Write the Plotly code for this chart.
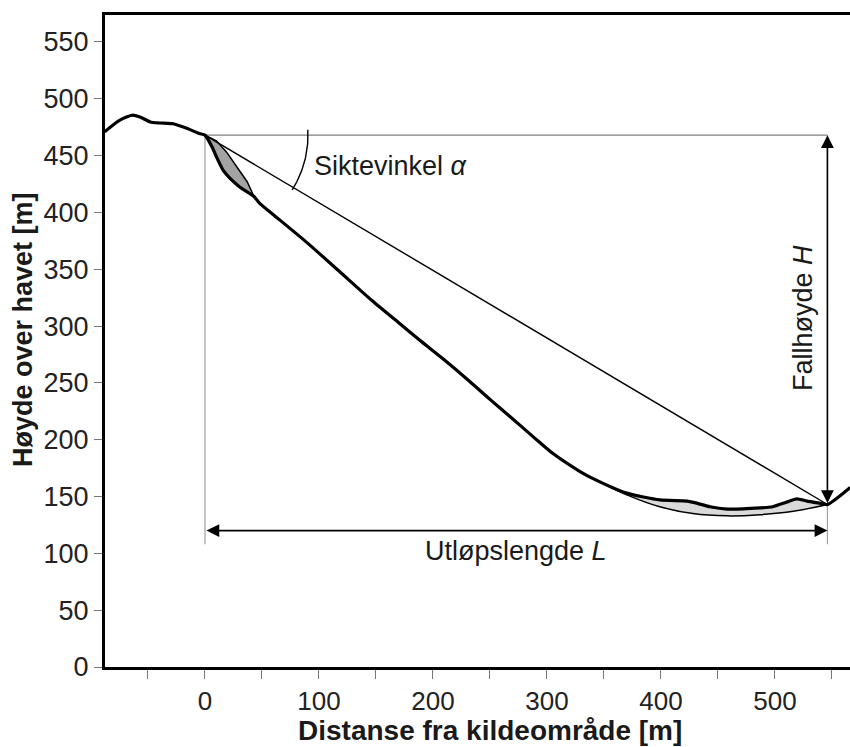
import numpy as np
import plotly.graph_objects as go

# ---- data ----
# terrain profile (thick line)
profile_x = [-88, -75, -64, -57, -48, -40, -28, -16, -5, 0, 6, 10, 16, 22, 31, 43, 48, 60, 90, 118,
             147, 171, 189, 209, 232, 250, 268, 288, 305, 329, 340, 370, 399, 423, 432, 443, 458,
             487, 498, 510, 519, 528, 540, 546, 566]
profile_y = [471, 481, 485.5, 484, 479.6, 478.7, 478, 474, 469.4, 468, 458, 449, 437, 430, 422, 414,
             408, 398, 373, 348, 322, 302, 287, 271, 251.5, 235.5, 220, 202.5, 188, 172, 166,
             153, 147, 146, 144, 141, 139, 140, 141, 145, 148, 146, 144, 143, 158]

# upper edge of release area (before the slide)
release_x = [0, 10, 19, 28, 37, 43]
release_y = [468, 463, 453, 440, 427, 414]

# smooth runout surface below the deposit
runout_x = [350, 370, 399, 428, 458, 487, 516, 546]
runout_y = [161, 151.5, 141, 135, 133, 134, 137, 143]

source_pt = (0, 468)
runout_pt = (546, 143)
L_arrow_y = 120
guide_bottom = 108

x_ticks = list(range(-50, 551, 50))
x_ticklabels = [str(v) if v >= 0 and v % 100 == 0 and v <= 500 else "" for v in x_ticks]
y_ticks = list(range(0, 551, 50))

FONT = "Liberation Sans, Arial, Helvetica, sans-serif"

fig = go.Figure()

# release lens (dark grey)
px = np.array(profile_x); py = np.array(profile_y)
mask = (px >= release_x[0]) & (px <= release_x[-1])
lens_x = list(px[mask]) + release_x[::-1]
lens_y = list(py[mask]) + release_y[::-1]
fig.add_trace(go.Scatter(x=lens_x, y=lens_y, fill="toself", mode="lines",
                         line=dict(color="black", width=1.5), fillcolor="#a3a3a3",
                         hoverinfo="skip", showlegend=False))

# deposit area (light grey)
mask2 = (px >= runout_x[0]) & (px <= runout_x[-1])
dep_x = [runout_x[0]] + list(px[mask2]) + runout_x[::-1]
dep_y = [runout_y[0]] + list(py[mask2]) + runout_y[::-1]
fig.add_trace(go.Scatter(x=dep_x, y=dep_y, fill="toself", mode="none",
                         fillcolor="#dadada", hoverinfo="skip", showlegend=False))
fig.add_trace(go.Scatter(x=runout_x, y=runout_y, mode="lines",
                         line=dict(color="black", width=1.5, shape="spline"),
                         hoverinfo="skip", showlegend=False))

# guide lines
fig.add_trace(go.Scatter(x=[source_pt[0], runout_pt[0]], y=[source_pt[1], source_pt[1]], mode="lines",
                         line=dict(color="#808080", width=1.2), hoverinfo="skip", showlegend=False))
fig.add_trace(go.Scatter(x=[source_pt[0], source_pt[0]], y=[source_pt[1], guide_bottom], mode="lines",
                         line=dict(color="#b0b0b0", width=1.5), hoverinfo="skip", showlegend=False))
fig.add_trace(go.Scatter(x=[runout_pt[0], runout_pt[0]], y=[source_pt[1], guide_bottom], mode="lines",
                         line=dict(color="#a0a0a0", width=1.2), hoverinfo="skip", showlegend=False))
# sight line
fig.add_trace(go.Scatter(x=[source_pt[0], runout_pt[0]], y=[source_pt[1], runout_pt[1]], mode="lines",
                         line=dict(color="black", width=1.4), hoverinfo="skip", showlegend=False))

# angle arc (pixel-scale aware)
xr = [-87.7, 565.8]; yr = [0, 573.7]
plot_w, plot_h = 745, 652
sx = plot_w / (xr[1] - xr[0]); sy = plot_h / (yr[1] - yr[0])
ang = np.arctan2((source_pt[1] - runout_pt[1]) * sy, (runout_pt[0] - source_pt[0]) * sx)
r_px = 103
t = np.linspace(np.radians(3), -ang - np.radians(1.5), 40)
fig.add_trace(go.Scatter(x=source_pt[0] + r_px * np.cos(t) / sx, y=source_pt[1] + r_px * np.sin(t) / sy,
                         mode="lines", line=dict(color="black", width=1.4),
                         hoverinfo="skip", showlegend=False))

# terrain profile
fig.add_trace(go.Scatter(x=profile_x, y=profile_y, mode="lines",
                         line=dict(color="black", width=3.2, shape="spline", smoothing=0.6),
                         hoverinfo="skip", showlegend=False))

# arrows
arrow_common = dict(showarrow=True, arrowhead=2, arrowsize=1.6, arrowwidth=1.6, arrowcolor="black",
                    arrowside="end+start", text="", axref="x", ayref="y", xref="x", yref="y")
fig.add_annotation(x=runout_pt[0], y=source_pt[1], ax=runout_pt[0], ay=runout_pt[1], **arrow_common)
fig.add_annotation(x=runout_pt[0], y=L_arrow_y, ax=source_pt[0], ay=L_arrow_y, **arrow_common)

txt_font = dict(family=FONT, size=27, color="#1a1a1a")
fig.add_annotation(x=94, y=441, text="Siktevinkel <i>α</i>", showarrow=False, xanchor="left",
                   yanchor="middle", font=txt_font)
fig.add_annotation(x=273, y=102, text="Utløpslengde <i>L</i>", showarrow=False, xanchor="center",
                   yanchor="middle", font=txt_font)
fig.add_annotation(x=524.5, y=307, text="Fallhøyde <i>H</i>", showarrow=False, textangle=-90,
                   xanchor="center", yanchor="middle", font=txt_font)

# axis titles
fig.add_annotation(x=(490 - 105) / 745, y=-(730 - 667) / 652, xref="paper", yref="paper",
                   text="<b>Distanse fra kildeområde [m]</b>", showarrow=False,
                   font=dict(family=FONT, size=28, color="#1a1a1a"), xanchor="center", yanchor="middle")
fig.add_annotation(x=(23 - 105) / 745, y=(667 - 330) / 652, xref="paper", yref="paper",
                   text="<b>Høyde over havet [m]</b>", showarrow=False, textangle=-90,
                   font=dict(family=FONT, size=27, color="#1a1a1a"), xanchor="center", yanchor="middle")

fig.update_layout(
    width=850, height=747,
    margin=dict(l=105, r=0, t=15, b=80),
    paper_bgcolor="white", plot_bgcolor="white",
    font=dict(family=FONT, color="#222"),
    xaxis=dict(range=xr, tickvals=x_ticks, ticktext=x_ticklabels, ticks="outside", ticklen=9,
               tickwidth=1.2, tickcolor="#777", showgrid=False, zeroline=False,
               showline=True, linewidth=3, linecolor="black", mirror=True,
               tickfont=dict(family=FONT, size=26, color="#222")),
    yaxis=dict(range=yr, tickvals=y_ticks, ticks="outside", ticklen=8, tickwidth=1.2,
               tickcolor="#777", showgrid=False, zeroline=False,
               showline=True, linewidth=3, linecolor="black", mirror=False,
               tickfont=dict(family=FONT, size=27, color="#222")),
)

fig.write_html("out.html", config={"displayModeBar": False},
               post_script="document.body.style.margin='0';document.body.style.overflow='hidden';")
